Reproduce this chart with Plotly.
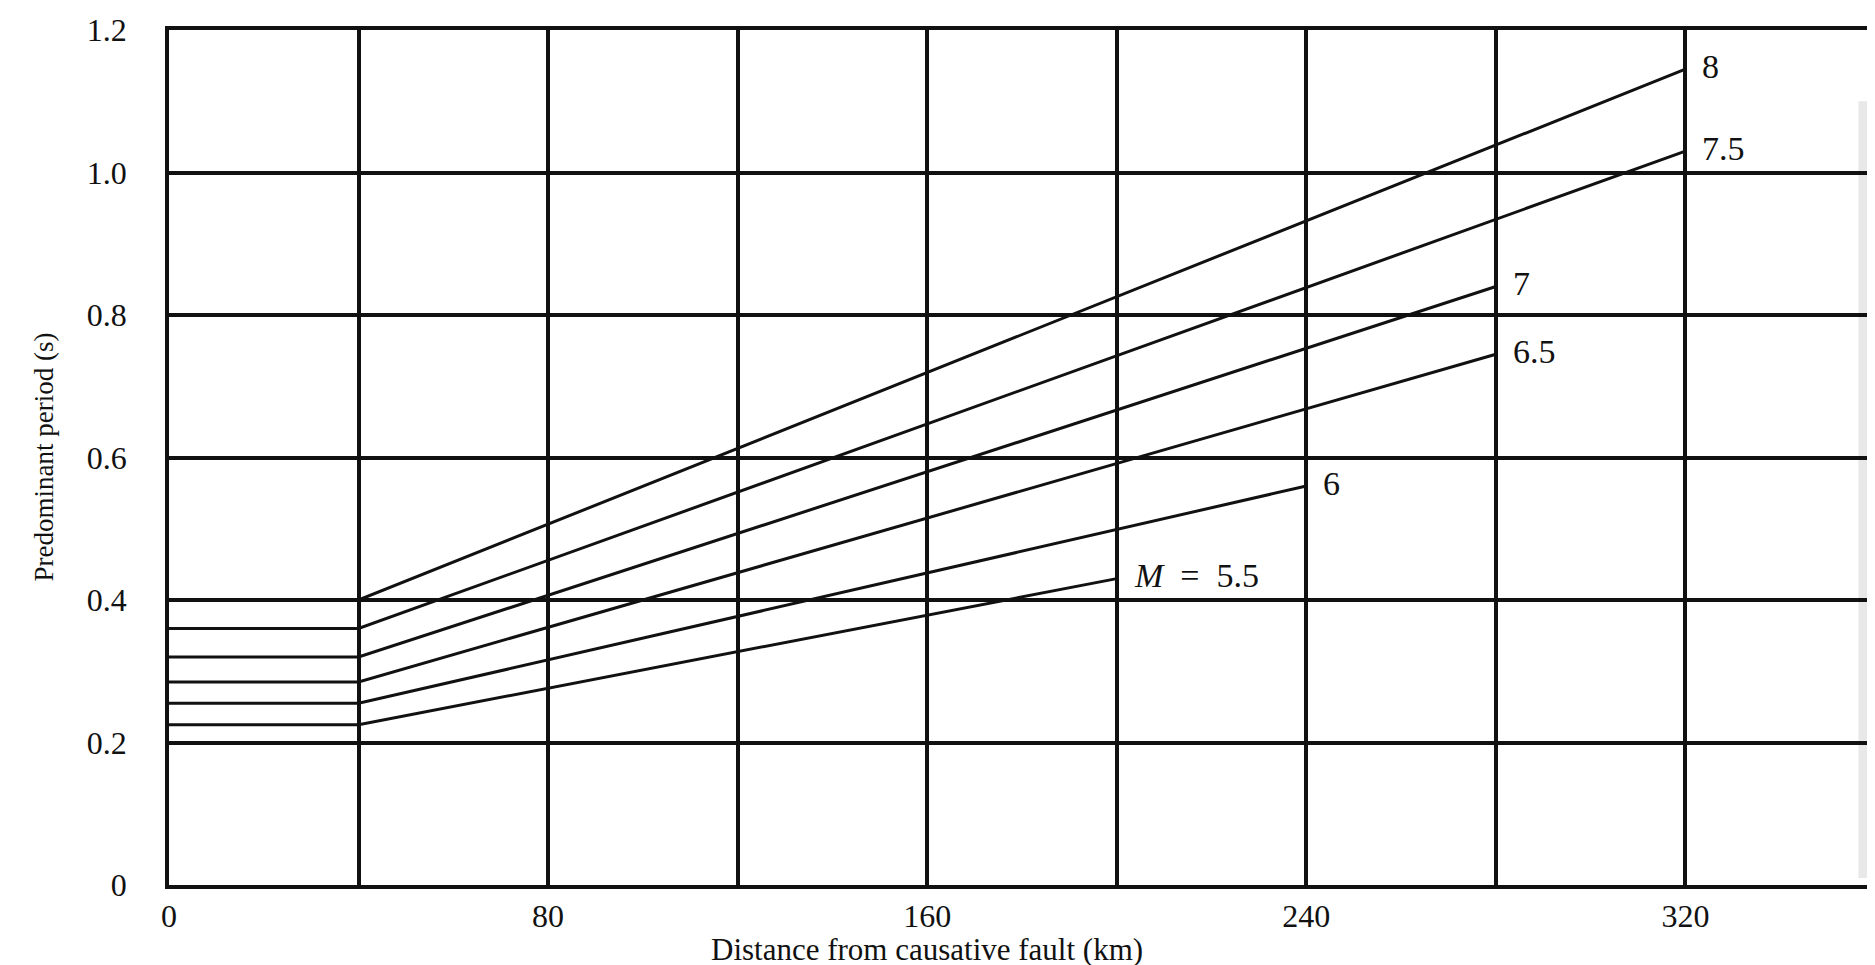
import plotly.graph_objects as go

# Data: magnitude curves (distance km, predominant period s)
magnitudes = ["8", "7.5", "7", "6.5", "6", "5.5"]
label_texts = ["8", "7.5", "7", "6.5", "6", "<i>M</i>  =  5.5"]
x_start = [0, 0, 0, 0, 0, 0]
x_knee = [40, 40, 40, 40, 40, 40]
x_end = [320, 320, 280, 280, 240, 200]
y_flat = [0.40, 0.36, 0.32, 0.285, 0.255, 0.225]
y_end = [1.145, 1.03, 0.84, 0.745, 0.56, 0.43]

x_tickvals = [0, 40, 80, 120, 160, 200, 240, 280, 320, 360]
x_ticktext = ["0", "", "80", "", "160", "", "240", "", "320", ""]
y_tickvals = [0, 0.2, 0.4, 0.6, 0.8, 1.0, 1.2]
y_ticktext = ["0", "0.2", "0.4", "0.6", "0.8", "1.0", "1.2"]

x_title = "Distance from causative fault (km)"
y_title = "Predominant period (s)"

FONT = "Liberation Serif, Times New Roman, serif"
INK = "#111111"

fig = go.Figure()
for i, m in enumerate(magnitudes):
    fig.add_trace(go.Scatter(
        x=[x_start[i], x_knee[i], x_end[i]],
        y=[y_flat[i], y_flat[i], y_end[i]],
        mode="lines",
        line=dict(color=INK, width=3),
        showlegend=False,
        name="M = " + m,
    ))
    fig.add_annotation(
        x=x_end[i], y=y_end[i], xref="x", yref="y",
        text=label_texts[i], showarrow=False,
        xanchor="left", yanchor="middle", xshift=15, yshift=3,
        font=dict(family=FONT, size=34, color=INK),
    )

fig.add_annotation(
    x=160, y=0, xref="x", yref="paper", text=x_title, showarrow=False,
    xanchor="center", yanchor="middle", yshift=-64,
    font=dict(family=FONT, size=31, color=INK),
)
fig.add_annotation(
    x=0, y=0.5, xref="paper", yref="paper", text=y_title, showarrow=False,
    xanchor="center", yanchor="middle", xshift=-126, textangle=-90,
    font=dict(family=FONT, size=27, color=INK),
)

# faint scanner shadow along the right edge
fig.add_shape(type="rect", xref="x", yref="y", x0=356.5, x1=359.3, y0=0.01, y1=1.1,
              fillcolor="#d6d6d6", opacity=0.55, line=dict(width=0), layer="below")

fig.update_layout(
    width=1875, height=965,
    margin=dict(l=161, r=4, t=21, b=88),
    paper_bgcolor="white", plot_bgcolor="white",
    font=dict(family=FONT, size=32, color=INK),
)
fig.update_xaxes(
    range=[0, 360], tickvals=x_tickvals, ticktext=x_ticktext,
    showgrid=True, gridcolor=INK, gridwidth=3.5,
    showline=True, linecolor=INK, linewidth=3.5, mirror=True,
    zeroline=False, ticks="", ticklabelstandoff=0,
    tickfont=dict(family=FONT, size=32, color=INK),
)
fig.update_yaxes(
    range=[0, 1.2], tickvals=y_tickvals, ticktext=y_ticktext,
    showgrid=True, gridcolor=INK, gridwidth=3.5,
    showline=True, linecolor=INK, linewidth=3.5, mirror=True,
    zeroline=False, ticks="", ticklabelstandoff=32,
    tickfont=dict(family=FONT, size=32, color=INK),
)

fig.write_html("out.html")
